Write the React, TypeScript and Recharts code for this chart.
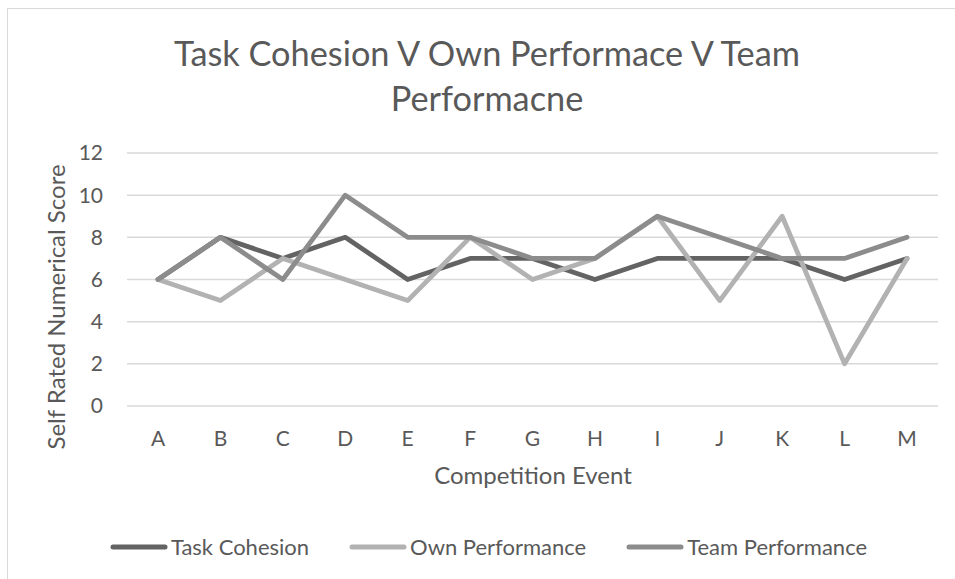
import React from 'react';
import { LineChart, Line, XAxis, YAxis, CartesianGrid, Legend } from 'recharts';

const categories = ['A', 'B', 'C', 'D', 'E', 'F', 'G', 'H', 'I', 'J', 'K', 'L', 'M'];
const taskCohesion = [6, 8, 7, 8, 6, 7, 7, 6, 7, 7, 7, 6, 7];
const ownPerformance = [6, 5, 7, 6, 5, 8, 6, 7, 9, 5, 9, 2, 7];
const teamPerformance = [6, 8, 6, 10, 8, 8, 7, 7, 9, 8, 7, 7, 8];
const yTicks = [0, 2, 4, 6, 8, 10, 12];
const seriesNames = ['Task Cohesion', 'Own Performance', 'Team Performance'];

const titleLines = ['Task Cohesion V Own Performace V Team', 'Performacne'];
const xTitle = 'Competition Event';
const yTitle = 'Self Rated Numerical Score';

const data = categories.map((c, i) => ({
  event: c,
  task: taskCohesion[i],
  own: ownPerformance[i],
  team: teamPerformance[i],
}));

const FONT = 'Lato, "Open Sans", sans-serif';
const TEXT = '#595959';

const LegendContent = (props: any) => {
  const payload = [...(props.payload || [])].sort(
    (a: any, b: any) => seriesNames.indexOf(a.value) - seriesNames.indexOf(b.value)
  );
  return (
    <div style={{ display: 'flex', justifyContent: 'center', alignItems: 'center', gap: 40, fontFamily: FONT, fontSize: 22, color: TEXT }}>
      {payload.map((p: any) => (
        <div key={p.value} style={{ display: 'flex', alignItems: 'center' }}>
          <svg width={58} height={8} style={{ marginRight: 3 }}>
            <line x1={3} y1={4} x2={55} y2={4} stroke={p.color} strokeWidth={5} strokeLinecap="round" />
          </svg>
          <span>{p.value}</span>
        </div>
      ))}
    </div>
  );
};

export default function App() {
  return (
    <div style={{ position: 'absolute', left: 0, top: 0, width: 955, height: 579, overflow: 'hidden', background: '#fff' }}>
      <div style={{ position: 'absolute', left: 7, top: 8, width: 980, height: 600, border: '1px solid #d9d9d9', boxSizing: 'border-box' }} />
      <div style={{ position: 'absolute', left: 0, top: 0 }}>
        <LineChart width={955} height={579} data={data} margin={{ top: 153, right: 17, bottom: 143, left: 67 }}>
          <CartesianGrid vertical={false} stroke="#d9d9d9" strokeWidth={1.5} />
          <XAxis
            dataKey="event"
            axisLine={false}
            tickLine={false}
            tickSize={0}
            tickMargin={25}
            height={30}
            padding={{ left: 31, right: 31 }}
            interval={0}
            tick={{ fill: TEXT, fontSize: 21, fontFamily: FONT }}
          />
          <YAxis
            domain={[0, 12]}
            ticks={yTicks}
            axisLine={false}
            tickLine={false}
            tickSize={0}
            tickMargin={24}
            width={60}
            tick={{ fill: TEXT, fontSize: 21, fontFamily: FONT }}
          />
          <Legend
            layout="horizontal"
            verticalAlign="middle"
            align="center"
            content={<LegendContent />}
            wrapperStyle={{ top: 533, left: 0, width: 977, height: 30 }}
          />
          <Line type="linear" dataKey="task" name={seriesNames[0]} stroke="#636363" strokeWidth={4.8} dot={false} strokeLinejoin="round" strokeLinecap="round" isAnimationActive={false} />
          <Line type="linear" dataKey="own" name={seriesNames[1]} stroke="#b2b2b2" strokeWidth={4.8} dot={false} strokeLinejoin="round" strokeLinecap="round" isAnimationActive={false} />
          <Line type="linear" dataKey="team" name={seriesNames[2]} stroke="#8c8c8c" strokeWidth={4.8} dot={false} strokeLinejoin="round" strokeLinecap="round" isAnimationActive={false} />
        </LineChart>
      </div>
      <svg width={955} height={579} style={{ position: 'absolute', left: 0, top: 0, pointerEvents: 'none' }}>
        <text x={487} y={66} textAnchor="middle" fontFamily={FONT} fontSize={34.3} fill={TEXT}>{titleLines[0]}</text>
        <text x={487} y={111} textAnchor="middle" fontFamily={FONT} fontSize={34.3} fill={TEXT}>{titleLines[1]}</text>
        <text x={533} y={484} textAnchor="middle" fontFamily={FONT} fontSize={24} fill={TEXT}>{xTitle}</text>
        <text x={65} y={307} textAnchor="middle" fontFamily={FONT} fontSize={24} fill={TEXT} transform="rotate(-90 65 307)">{yTitle}</text>
      </svg>
    </div>
  );
}
